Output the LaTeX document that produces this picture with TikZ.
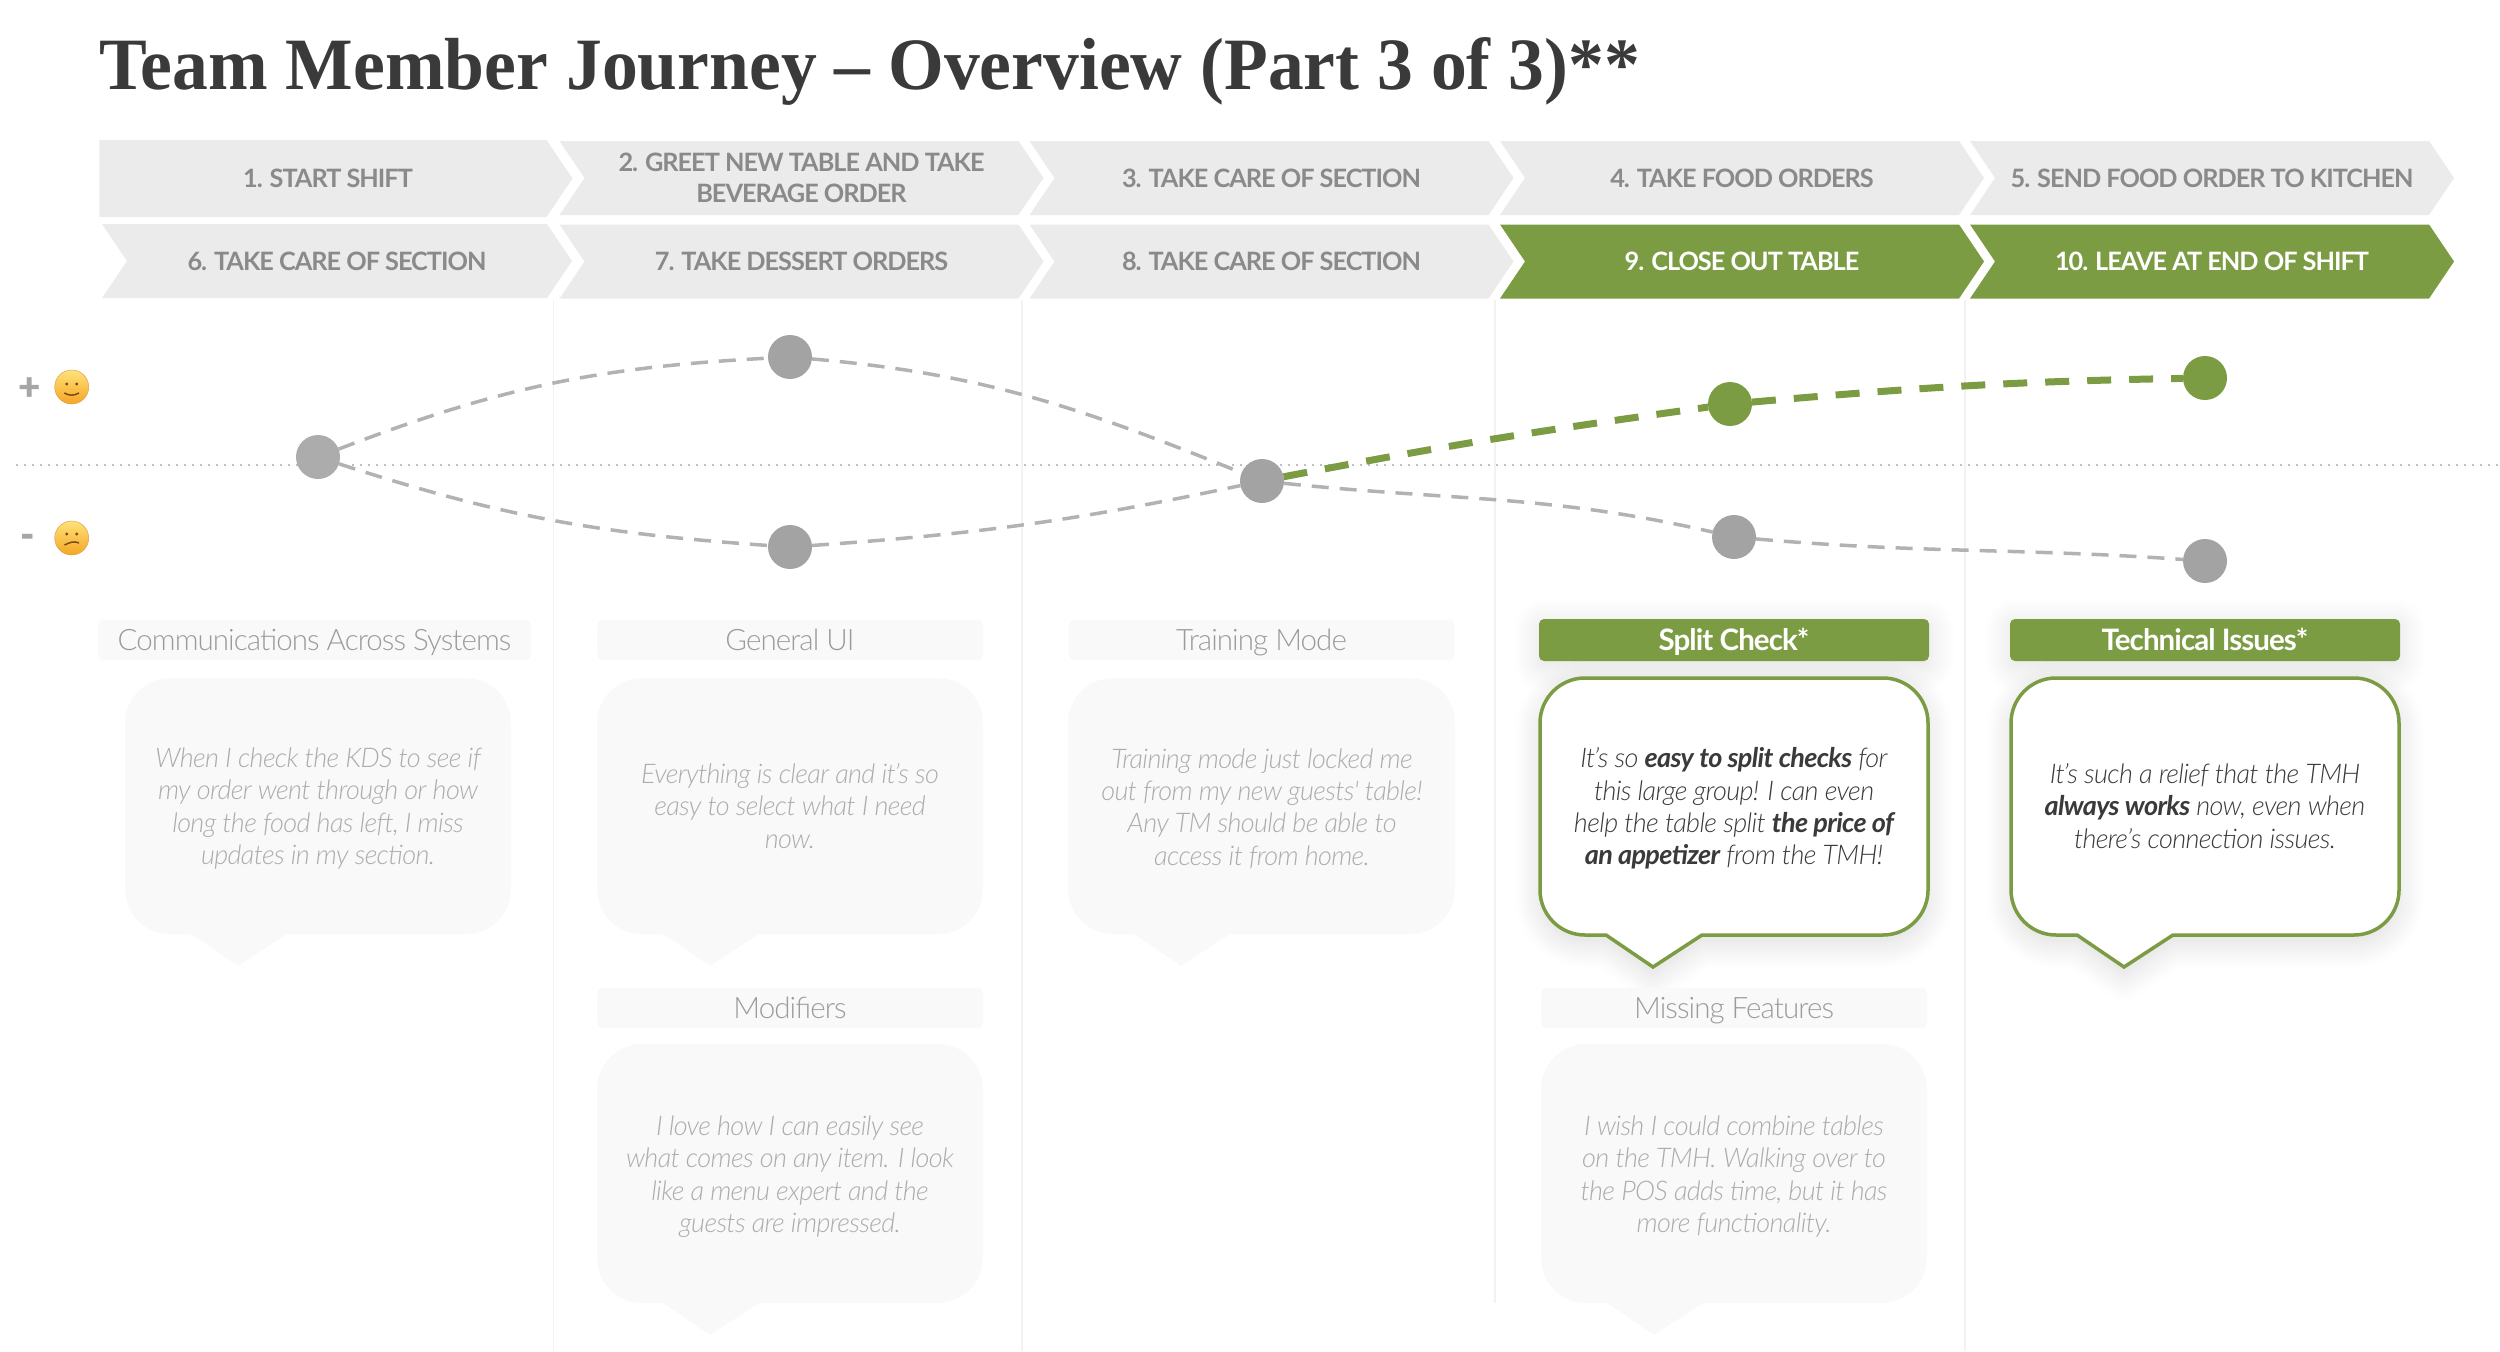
\documentclass[tikz,border=0pt]{standalone}
\usepackage{fontspec}
\setmainfont{Lato}
\newfontfamily\quotefont{Lato Light}[LetterSpace=-2.5, ItalicFont={Lato Light Italic}, BoldItalicFont={Lato Bold Italic}, BoldFont={Lato Bold}]
\newfontfamily\tagfont{Lato Light}[LetterSpace=-3.2]
\newfontfamily\tagonfont{Lato Bold}[LetterSpace=-3.2]
\newfontfamily\stepfont{Lato Bold}[LetterSpace=-4]
\newfontfamily\moodfont{Lato Black}
\newfontfamily\titlefont{Liberation Serif}[FakeStretch=0.97]
\usetikzlibrary{positioning, arrows.meta, shapes.symbols, shadows.blur}
\definecolor{journeygreen}{RGB}{124, 156, 68}
\definecolor{chevgray}{RGB}{235, 235, 235}
\definecolor{chevtext}{RGB}{138, 138, 138}
\definecolor{fadebox}{RGB}{249, 249, 249}
\definecolor{fadetext}{RGB}{172, 172, 172}
\definecolor{dotgray}{RGB}{163, 163, 163}
\definecolor{inkdark}{RGB}{58, 58, 58}
\definecolor{facetop}{RGB}{255, 226, 122}
\definecolor{facelow}{RGB}{245, 166, 35}
\definecolor{faceedge}{RGB}{221, 160, 80}
\definecolor{facemark}{RGB}{120, 74, 26}

% bubble outline: style, left, right, top, bottom
\newcommand{\bubbleshape}[5]{
    \path[#1] (#3,#4-1) [rounded corners=0.45cm] -- (#3,#4) -- (#2,#4) -- (#2,#5)
        [sharp corners] -- (#2+0.66,#5) -- (#2+1.13,#5-0.32) -- (#2+1.62,#5)
        [rounded corners=0.45cm] -- (#3,#5) -- cycle;
}

\begin{document}
\begin{tikzpicture}[
        chev/.style={shape=signal, signal to=east, signal from=west, signal pointer angle=112,
            fill=chevgray, text=chevtext, inner sep=0pt, outer sep=0pt, align=center,
            minimum height=0.74cm, minimum width=4.84cm,
            font=\fontsize{7.2}{8.8}\selectfont\stepfont},
        chevon/.style={chev, fill=journeygreen, text=white},
        plainchev/.style={chev, signal from=nowhere, signal to=east},
        stage/.style={circle, fill=dotgray, inner sep=0pt, outer sep=0pt, minimum size=0.44cm},
        stageon/.style={stage, fill=journeygreen},
        path gray/.style={dash pattern=on 0.17cm off 0.11cm, line width=0.035cm, gray!60},
        path on/.style={dash pattern=on 0.24cm off 0.18cm, line width=0.07cm, journeygreen},
        colline/.style={line width=0.015cm, black!5},
        tagbox/.style={fill=fadebox, text=fadetext!90!black, rounded corners=0.05cm, minimum height=0.4cm,
            minimum width=3.86cm, inner sep=0pt, text height=0.26cm, text depth=0.06cm,
            font=\fontsize{8.4}{10}\selectfont\tagfont},
        tagon/.style={tagbox, fill=journeygreen, text=white, minimum height=0.42cm, minimum width=3.9cm,
            font=\fontsize{8.4}{10}\selectfont\tagonfont,
            blur shadow={shadow xshift=0pt, shadow yshift=-0.5mm, shadow blur radius=2.5mm,
                shadow blur steps=14, shadow opacity=12}},
        bubfade/.style={fill=fadebox},
        bubon/.style={fill=white, draw=journeygreen, line width=0.035cm,
            blur shadow={shadow xshift=0pt, shadow yshift=-0.8mm, shadow blur radius=2.5mm,
                shadow blur steps=14, shadow opacity=14}},
        quote/.style={align=center, inner sep=0pt, text=fadetext,
            font=\fontsize{7.7}{9.22}\selectfont\quotefont\itshape},
        quoteon/.style={quote, text=inkdark},
        mood/.style={text=gray!70, inner sep=0pt, font=\fontsize{11}{12}\selectfont\moodfont},
        face/.style={circle, inner sep=0pt, minimum size=0.34cm, top color=facetop,
            bottom color=facelow, draw=faceedge, line width=0.005cm},
        facemouth/.style={facemark, line width=0.015cm}
    ]
    \useasboundingbox (0,0) rectangle (25,-13.51);

    % === Title ===
    \node[anchor=base west, inner sep=0pt, text=inkdark, font=\fontsize{21}{25}\selectfont\titlefont\bfseries]
        (title) at (0.99,-0.89) {Team Member Journey – Overview (Part 3 of 3)**};

    % === Column rules and neutral line ===
    \draw[colline] (5.535,-3.0) -- (5.535,-13.51);
    \draw[colline] (10.22,-3.0) -- (10.22,-13.51);
    \draw[colline] (14.95,-3.0) -- (14.95,-13.03);
    \draw[colline] (19.65,-3.0) -- (19.65,-13.51);
    \draw[line width=0.02cm, gray!50, dash pattern=on 0.02cm off 0.06cm] (0.16,-4.65) -- (25,-4.65);

    % === Steps, top row ===
    \node[plainchev, minimum height=0.77cm, minimum width=4.73cm] (step1) at (3.23,-1.785) {\hspace*{0.1cm}1. START SHIFT};
    \node[chev] (step2) at (8.015,-1.78) {2. GREET NEW TABLE AND TAKE\\BEVERAGE ORDER};
    \node[chev] (step3) at (12.715,-1.78) {3. TAKE CARE OF SECTION};
    \node[chev] (step4) at (17.42,-1.78) {4. TAKE FOOD ORDERS};
    \node[chev] (step5) at (22.12,-1.78) {5. SEND FOOD ORDER TO KITCHEN};

    % === Steps, bottom row ===
    \node[chev, minimum width=4.70cm] (step6) at (3.37,-2.61) {6. TAKE CARE OF SECTION};
    \node[chev] (step7) at (8.015,-2.615) {7. TAKE DESSERT ORDERS};
    \node[chev] (step8) at (12.715,-2.615) {8. TAKE CARE OF SECTION};
    \node[chevon] (step9) at (17.42,-2.615) {9. CLOSE OUT TABLE};
    \node[chevon] (step10) at (22.12,-2.615) {10. LEAVE AT END OF SHIFT};

    % === Mood scale ===
    \node[mood] (plus) at (0.295,-3.89) {+};
    \node[mood] (minus) at (0.28,-5.41) {-};
    \node[face] (happy) at (0.717,-3.87) {};
    \node[face] (sad) at (0.717,-5.38) {};
    \fill[facemark] (0.667,-3.84) circle (0.016) (0.767,-3.84) circle (0.016)
                    (0.667,-5.34) circle (0.016) (0.767,-5.34) circle (0.016);
    \draw[facemouth] (0.643,-3.93) to[out=-30, in=-150] (0.79,-3.93);
    \draw[facemouth] (0.645,-5.45) to[out=25, in=155] (0.79,-5.43);

    % === Journey points ===
    \node[stage, fill=gray!65] (pt1) at (3.18,-4.57) {};
    \node[stage] (pt2up) at (7.90,-3.57) {};
    \node[stage] (pt2low) at (7.90,-5.47) {};
    \node[stage] (pt3) at (12.62,-4.81) {};
    \node[stageon] (pt4up) at (17.30,-4.04) {};
    \node[stage] (pt4low) at (17.34,-5.37) {};
    \node[stageon] (pt5up) at (22.05,-3.78) {};
    \node[stage] (pt5low) at (22.05,-5.61) {};

    \draw[path gray] (pt1) to[out=21, in=183] (pt2up);
    \draw[path gray] (pt2up) to[out=-5, in=158] (pt3);
    \draw[path gray] (pt1) to[out=-18, in=176] (pt2low);
    \draw[path gray] (pt2low) to[out=4, in=192] (pt3);
    \draw[path gray] (pt3) to[out=-6, in=167] (pt4low);
    \draw[path gray] (pt4low) to[out=-5, in=176] (pt5low);
    \draw[path on] (pt3) to[out=11, in=188] (pt4up);
    \draw[path on] (pt4up) to[out=5, in=181] (pt5up);

    % === Green tags, under their bubbles ===
    \node[tagon] (tagsplit) at (17.34,-6.4) {Split Check*};
    \node[tagon] (tagtech) at (22.05,-6.4) {Technical Issues*};

    % === Speech bubbles ===
    \bubbleshape{bubfade}{1.25}{5.11}{-6.78}{-9.34}
    \bubbleshape{bubfade}{5.97}{9.83}{-6.78}{-9.34}
    \bubbleshape{bubfade}{10.68}{14.55}{-6.78}{-9.34}
    \bubbleshape{bubon}{15.40}{19.28}{-6.78}{-9.35}
    \bubbleshape{bubon}{20.11}{23.99}{-6.78}{-9.35}
    \bubbleshape{bubfade}{5.97}{9.83}{-10.44}{-13.03}
    \bubbleshape{bubfade}{15.41}{19.27}{-10.44}{-13.03}

    % === Faded tags ===
    \node[tagbox, minimum width=4.33cm] (tagcomm) at (3.145,-6.4) {Communications Across Systems};
    \node[tagbox] (tagui) at (7.90,-6.4) {General UI};
    \node[tagbox] (tagtrain) at (12.615,-6.4) {Training Mode};
    \node[tagbox] (tagmod) at (7.90,-10.08) {Modifiers};
    \node[tagbox] (tagmiss) at (17.34,-10.08) {Missing Features};

    \node[quote] (qcomm) at (3.18,-8.085)
        {When I check the KDS to see if\\my order went through or how\\long the food has left, I miss\\updates in my section.};
    \node[quote] (qui) at (7.90,-8.06)
        {Everything is clear and it’s so\\easy to select what I need\\now.};
    \node[quote] (qtrain) at (12.62,-8.085)
        {Training mode just locked me\\out from my new guests' table!\\Any TM should be able to\\access it from home.};
    \node[quoteon] (qsplit) at (17.34,-8.085)
        {It’s so \textbf{easy to split checks} for\\this large group! I can even\\help the table split \textbf{the price of}\\\textbf{an appetizer} from the TMH!};
    \node[quoteon] (qtech) at (22.05,-8.06)
        {It’s such a relief that the TMH\\\textbf{always works} now, even when\\there’s connection issues.};
    \node[quote] (qmod) at (7.90,-11.765)
        {I love how I can easily see\\what comes on any item. I look\\like a menu expert and the\\guests are impressed.};
    \node[quote] (qmiss) at (17.34,-11.765)
        {I wish I could combine tables\\on the TMH. Walking over to\\the POS adds time, but it has\\more functionality.};

\end{tikzpicture}
\end{document}
